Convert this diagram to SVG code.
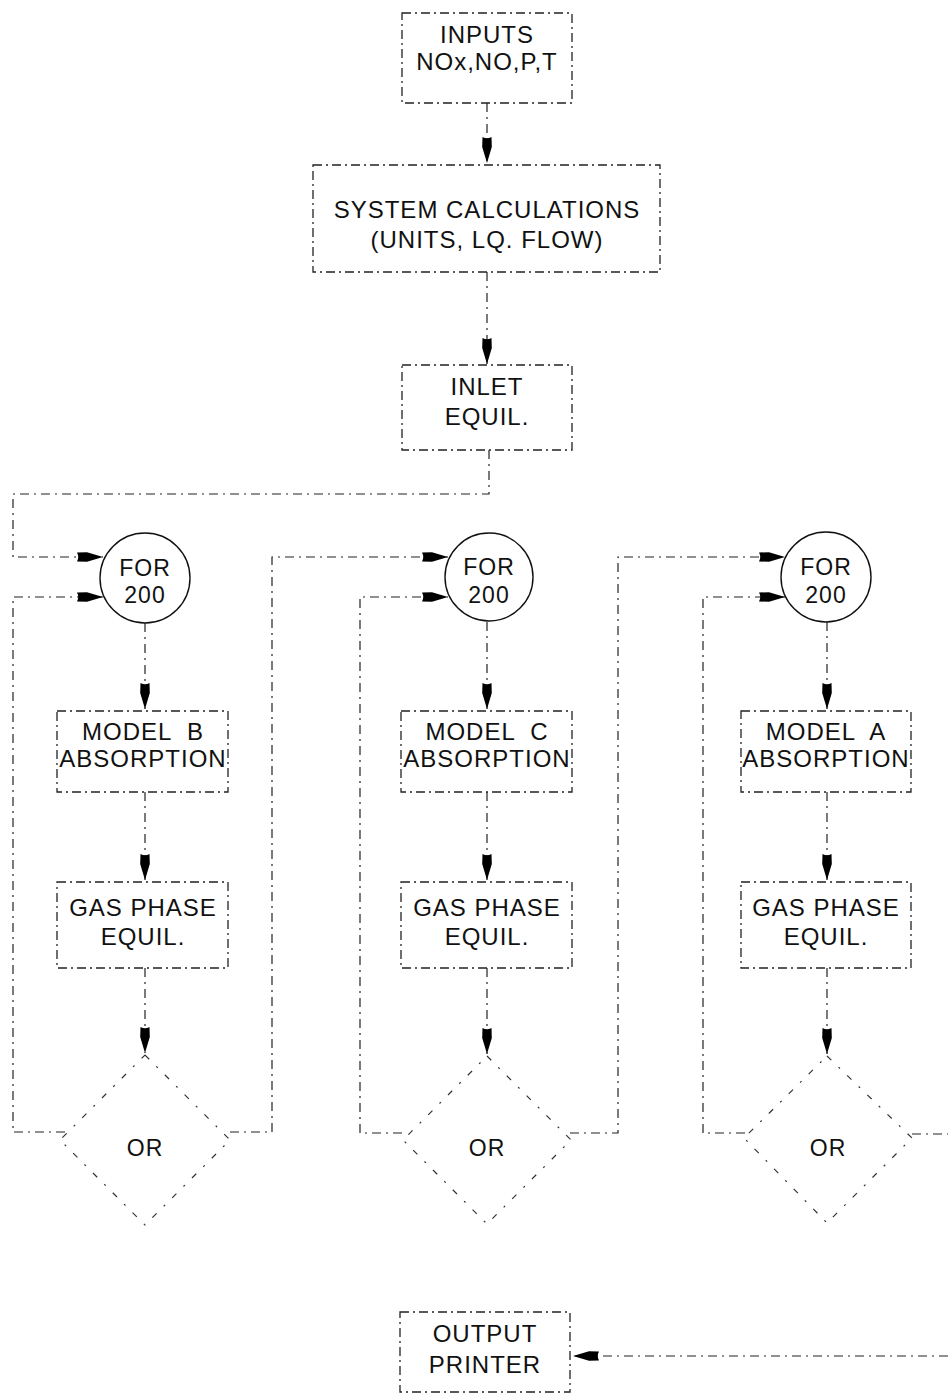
<svg xmlns="http://www.w3.org/2000/svg" width="948" height="1394" viewBox="0 0 948 1394">
<style>
.bg{fill:#ffffff}
.box{fill:none;stroke:#222;stroke-width:1.3;stroke-dasharray:9 4 2 4}
.circ{fill:none;stroke:#111;stroke-width:1.4}
.dia{fill:none;stroke:#333;stroke-width:1.2;stroke-dasharray:6 10 2 10}
.conn{fill:none;stroke:#222;stroke-width:1.2;stroke-dasharray:9 5 2 5}
.t{font-family:"Liberation Sans",Arial,sans-serif;font-size:24px;fill:#111;text-anchor:middle;letter-spacing:1px}
.s{font-size:23px}
</style>
<defs>
<marker id="ah" viewBox="0 0 26 12" refX="26" refY="6" markerWidth="26" markerHeight="12" markerUnits="userSpaceOnUse" orient="auto">
<path d="M0,1.5 L10,1.2 L26,6 L10,10.8 L0,10.5 Q2.5,6 0,1.5 Z" fill="#000"/>
</marker>
</defs>
<rect class="bg" x="0" y="0" width="948" height="1394"/>

<g id="connectors">
<path class="conn" d="M487,103 V163" marker-end="url(#ah)"/>
<path class="conn" d="M487,272 V364" marker-end="url(#ah)"/>
<path class="conn" d="M489,450 V494 H13 V557 H103" marker-end="url(#ah)"/>
<path class="conn" d="M65,1132 H13 V597 H103" marker-end="url(#ah)"/>
<path class="conn" d="M230,1132 H272 V557 H448" marker-end="url(#ah)"/>
<path class="conn" d="M402,1133 H360 V597 H448" marker-end="url(#ah)"/>
<path class="conn" d="M570,1133 H618 V557 H785" marker-end="url(#ah)"/>
<path class="conn" d="M745,1133 H703 V597 H785" marker-end="url(#ah)"/>
<path class="conn" d="M912,1134 H948"/>
<path class="conn" d="M948,1356 H573" marker-end="url(#ah)"/>
<path class="conn" d="M145,623 V709" marker-end="url(#ah)"/>
<path class="conn" d="M145,792 V880" marker-end="url(#ah)"/>
<path class="conn" d="M145,968 V1053" marker-end="url(#ah)"/>
<path class="conn" d="M487,622 V709" marker-end="url(#ah)"/>
<path class="conn" d="M487,792 V880" marker-end="url(#ah)"/>
<path class="conn" d="M487,968 V1054" marker-end="url(#ah)"/>
<path class="conn" d="M827,622 V709" marker-end="url(#ah)"/>
<path class="conn" d="M827,792 V880" marker-end="url(#ah)"/>
<path class="conn" d="M827,968 V1054" marker-end="url(#ah)"/>
</g>

<g id="inputs">
<rect class="box" x="402" y="13" width="170" height="90"/>
<text class="t" x="487" y="43">INPUTS</text>
<text class="t" x="487" y="70">NOx,NO,P,T</text>
</g>

<g id="system">
<rect class="box" x="313" y="165" width="347" height="107"/>
<text class="t" x="487" y="218">SYSTEM CALCULATIONS</text>
<text class="t" x="487" y="248">(UNITS, LQ. FLOW)</text>
</g>

<g id="inlet">
<rect class="box" x="402" y="365" width="170" height="85"/>
<text class="t" x="487" y="395">INLET</text>
<text class="t" x="487" y="425">EQUIL.</text>
</g>

<g id="forB">
<circle class="circ" cx="145" cy="578" r="45"/>
<text class="t s" x="145" y="576">FOR</text>
<text class="t s" x="145" y="603">200</text>
</g>
<g id="forC">
<circle class="circ" cx="489" cy="577" r="44"/>
<text class="t s" x="489" y="575">FOR</text>
<text class="t s" x="489" y="603">200</text>
</g>
<g id="forA">
<circle class="circ" cx="826" cy="577" r="45"/>
<text class="t s" x="826" y="575">FOR</text>
<text class="t s" x="826" y="603">200</text>
</g>

<g id="modelB">
<rect class="box" x="57" y="711" width="171" height="81"/>
<text class="t" x="143" y="740" xml:space="preserve">MODEL  B</text>
<text class="t" x="143" y="767">ABSORPTION</text>
</g>
<g id="modelC">
<rect class="box" x="401" y="711" width="171" height="81"/>
<text class="t" x="487" y="740" xml:space="preserve">MODEL  C</text>
<text class="t" x="487" y="767">ABSORPTION</text>
</g>
<g id="modelA">
<rect class="box" x="741" y="711" width="170" height="81"/>
<text class="t" x="826" y="740" xml:space="preserve">MODEL  A</text>
<text class="t" x="826" y="767">ABSORPTION</text>
</g>

<g id="gasB">
<rect class="box" x="57" y="882" width="171" height="86"/>
<text class="t" x="143" y="916">GAS PHASE</text>
<text class="t" x="143" y="945">EQUIL.</text>
</g>
<g id="gasC">
<rect class="box" x="401" y="882" width="171" height="86"/>
<text class="t" x="487" y="916">GAS PHASE</text>
<text class="t" x="487" y="945">EQUIL.</text>
</g>
<g id="gasA">
<rect class="box" x="741" y="882" width="170" height="86"/>
<text class="t" x="826" y="916">GAS PHASE</text>
<text class="t" x="826" y="945">EQUIL.</text>
</g>

<g id="orB">
<path class="dia" d="M145,1055 L230,1140 L145,1225 L60,1140 Z"/>
<text class="t s" x="145" y="1156">OR</text>
</g>
<g id="orC">
<path class="dia" d="M487,1056 L571,1140 L487,1224 L403,1140 Z"/>
<text class="t s" x="487" y="1156">OR</text>
</g>
<g id="orA">
<path class="dia" d="M827,1056 L912,1138 L827,1223 L744,1138 Z"/>
<text class="t s" x="828" y="1156">OR</text>
</g>

<g id="output">
<rect class="box" x="400" y="1312" width="170" height="80"/>
<text class="t" x="485" y="1342">OUTPUT</text>
<text class="t" x="485" y="1373">PRINTER</text>
</g>
</svg>
